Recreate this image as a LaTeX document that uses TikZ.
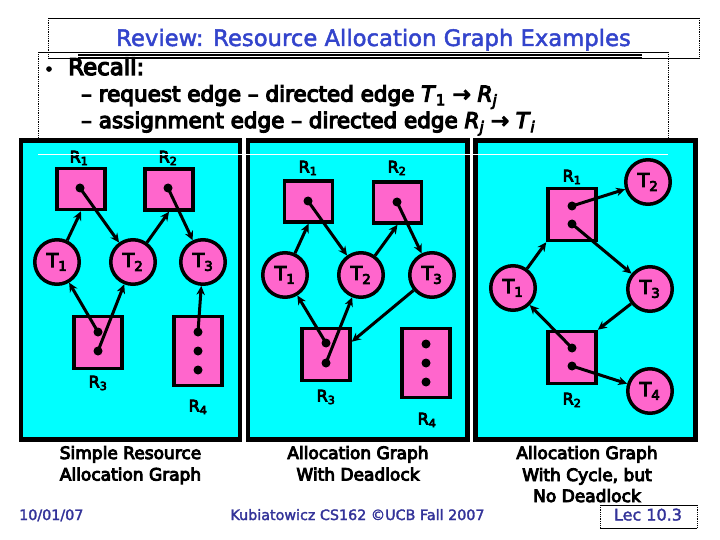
\documentclass[tikz,border=0pt]{standalone}
\usepackage{fontspec}
\setmainfont{DejaVu Sans}
\newfontfamily\csb[FakeBold=5.5]{DejaVu Sans}
\newfontfamily\csm[FakeBold=2]{DejaVu Sans}
\usetikzlibrary{arrows.meta,calc}
\definecolor{cy}{RGB}{0,255,255}
\definecolor{pk}{RGB}{255,102,204}
\definecolor{tblue}{RGB}{51,68,204}
\definecolor{fblue}{RGB}{51,51,153}
\newcommand{\fs}[1]{\fontsize{#1}{#1}\selectfont}
\begin{document}
\begin{tikzpicture}[x=1pt,y=-1pt,
  panel/.style={draw=black, fill=cy, line width=4.5pt},
  res/.style={draw=black, fill=pk, line width=3.5pt, rectangle, inner sep=0pt, minimum width=48pt},
  resone/.style={res, minimum height=41pt},
  restwo/.style={res, minimum height=52pt},
  resthree/.style={res, minimum height=69pt},
  thr/.style={draw=black, fill=pk, line width=3.5pt, circle, minimum size=44.5pt, inner sep=0pt, font=\csb\fs{19}},
  tok/.style={fill=black, circle, inner sep=0pt, minimum size=9pt},
  edge/.style={line width=3pt, -{Stealth[length=9pt,width=8.5pt]}},
  rlab/.style={font=\csb\fs{16}, inner sep=0pt},
  captxt/.style={font=\csb\fs{17}, anchor=base, inner sep=0pt},
  body/.style={font=\csb\fs{21.5}, anchor=base west, inner sep=0pt},
  foot/.style={font=\csm\fs{14.3}, text=fblue, inner sep=0pt},
  boxh/.style={line width=0.8pt, draw=black},
  boxv/.style={line width=0.8pt, draw=black, densely dotted},
]
\useasboundingbox (0,0) rectangle (720,540);
\fill[white] (0,0) rectangle (720,540);

% header boxes
\draw[boxh] (48,18) -- (699,18);
\draw[boxh] (48,58) -- (699,58);
\draw[boxv] (48,18) -- (48,58);
\draw[boxv] (699,18) -- (699,58);
\draw[boxh] (38,52.3) -- (668,52.3);
\draw[boxv] (38,52.3) -- (38,154);
\draw[boxv] (668,52.3) -- (668,154);
\draw[line width=2pt] (78,54.8) -- (642,54.8);
\draw[line width=0.8pt] (78,57.5) -- (642,57.5);

\node[anchor=base, text=tblue, font=\csm\fs{22.7}, inner sep=0pt] (title) at (373.5,46) {Review: Resource Allocation Graph Examples};
\node[anchor=base, font=\csb\fs{16}, inner sep=0pt] (bul) at (49,75) {•};
\node[anchor=base west, font=\csb\fs{22.9}, inner sep=0pt] (recall) at (68,75) {Recall:};
\node[body] (req) at (81,101.5) {– request edge – directed edge \textit{T}\textsubscript{1} → \textit{R}\textsubscript{\textit{j}}};
\node[body] (asg) at (81,128) {– assignment edge – directed edge \textit{R}\textsubscript{\textit{j}} → \textit{T}\textsubscript{\textit{i}}};

% panels
\draw[panel] (21,140.5) rectangle (240,439.5);
\draw[panel] (248,140.5) rectangle (467.5,439.5);
\draw[panel] (475.5,140.5) rectangle (695.5,439.5);

% ---------- panel 1 ----------
\node[resone] (p1R1) at (81,189) {};
\node[resone] (p1R2) at (169,189.5) {};
\node[restwo] (p1R3) at (98,342.5) {};
\node[resthree] (p1R4) at (198,351) {};
\node[thr] (p1T1) at (57,262) {T\textsubscript{1}};
\node[thr] (p1T2) at (133,262) {T\textsubscript{2}};
\node[thr] (p1T3) at (203,262) {T\textsubscript{3}};
\node[tok] (p1R1d) at (80,188) {};
\node[tok] (p1R2d) at (168,188) {};
\node[tok] (p1R3a) at (98,332) {};
\node[tok] (p1R3b) at (98,351) {};
\node[tok] (p1R4a) at (198,332) {};
\node[tok] (p1R4b) at (198,351) {};
\node[tok] (p1R4c) at (198,370) {};
\node[rlab] (p1L1) at (79,158) {R\textsubscript{1}};
\node[rlab] (p1L2) at (168,158) {R\textsubscript{2}};
\node[rlab] (p1L3) at (98,383) {R\textsubscript{3}};
\node[rlab] (p1L4) at (198,407) {R\textsubscript{4}};
\draw[edge] (p1T1) -- (p1R1.south);
\draw[edge] (p1R1d.center) -- (p1T2);
\draw[edge] (p1T2) -- (p1R2.south);
\draw[edge] (p1R2d.center) -- (p1T3);
\draw[edge] (p1R3a.center) -- (p1T1);
\draw[edge] (p1R3b.center) -- (p1T2);
\draw[edge] (p1R4a.center) -- (p1T3);

% ---------- panel 2 ----------
\node[resone] (p2R1) at (308.5,201.5) {};
\node[resone] (p2R2) at (397.5,202.5) {};
\node[restwo] (p2R3) at (326,354.5) {};
\node[resthree] (p2R4) at (426,363) {};
\node[thr] (p2T1) at (285,275) {T\textsubscript{1}};
\node[thr] (p2T2) at (361,275) {T\textsubscript{2}};
\node[thr] (p2T3) at (432,275) {T\textsubscript{3}};
\node[tok] (p2R1d) at (308,201) {};
\node[tok] (p2R2d) at (397,202) {};
\node[tok] (p2R3a) at (326,343) {};
\node[tok] (p2R3b) at (326,363) {};
\node[tok] (p2R4a) at (426,344) {};
\node[tok] (p2R4b) at (426,363) {};
\node[tok] (p2R4c) at (426,382) {};
\node[rlab] (p2L1) at (308,168) {R\textsubscript{1}};
\node[rlab] (p2L2) at (397,168) {R\textsubscript{2}};
\node[rlab] (p2L3) at (326,397) {R\textsubscript{3}};
\node[rlab] (p2L4) at (427,420) {R\textsubscript{4}};
\draw[edge] (p2T1) -- (p2R1.south);
\draw[edge] (p2R1d.center) -- (p2T2);
\draw[edge] (p2T2) -- (p2R2.south);
\draw[edge] (p2R2d.center) -- (p2T3);
\draw[edge] (p2R3a.center) -- (p2T1);
\draw[edge] (p2R3b.center) -- (p2T2);
\draw[edge] (p2T3) -- ($(p2R3.north east)!0.27!(p2R3.south east)$);

% ---------- panel 3 ----------
\node[restwo] (p3R1) at (572,214.5) {};
\node[restwo] (p3R2) at (572,357.5) {};
\node[thr] (p3T1) at (513,288) {T\textsubscript{1}};
\node[thr] (p3T2) at (648,182) {T\textsubscript{2}};
\node[thr] (p3T3) at (650,289) {T\textsubscript{3}};
\node[thr] (p3T4) at (650,391) {T\textsubscript{4}};
\node[tok] (p3R1a) at (572,206) {};
\node[tok] (p3R1b) at (572,224) {};
\node[tok] (p3R2a) at (572,348) {};
\node[tok] (p3R2b) at (572,366) {};
\node[rlab] (p3L1) at (572,177) {R\textsubscript{1}};
\node[rlab] (p3L2) at (572,400) {R\textsubscript{2}};
\draw[edge] (p3R1a.center) -- (p3T2);
\draw[edge] (p3R1b.center) -- (p3T3);
\draw[edge] (p3T1) -- (p3R1.south west);
\draw[edge] (p3T3) -- (p3R2.north east);
\draw[edge] (p3R2a.center) -- (p3T1);
\draw[edge] (p3R2b.center) -- (p3T4);

% white bottom edge of body box over panels
\draw[white, line width=0.8pt] (38,154) -- (668,154);

% captions
\node[captxt] (c1a) at (130.5,459) {Simple Resource};
\node[captxt] (c1b) at (130.5,480.5) {Allocation Graph};
\node[captxt] (c2a) at (358,459) {Allocation Graph};
\node[captxt] (c2b) at (358,480.5) {With Deadlock};
\node[captxt] (c3a) at (587,459) {Allocation Graph};
\node[captxt] (c3b) at (587,481) {With Cycle, but};
\node[captxt] (c3c) at (587,502) {No Deadlock};

% footer
\node[foot, anchor=base west] (date) at (19,520) {10/01/07};
\node[foot, anchor=base] (auth) at (357.5,520) {Kubiatowicz CS162 ©UCB Fall 2007};
\draw[boxh] (600,505) -- (697,505);
\draw[boxh] (600,528) -- (697,528);
\draw[boxv] (600,505) -- (600,528);
\draw[boxv] (697,505) -- (697,528);
\node[foot, anchor=base, font=\csm\fs{16}] (lec) at (648,520.5) {Lec 10.3};
\end{tikzpicture}
\end{document}
